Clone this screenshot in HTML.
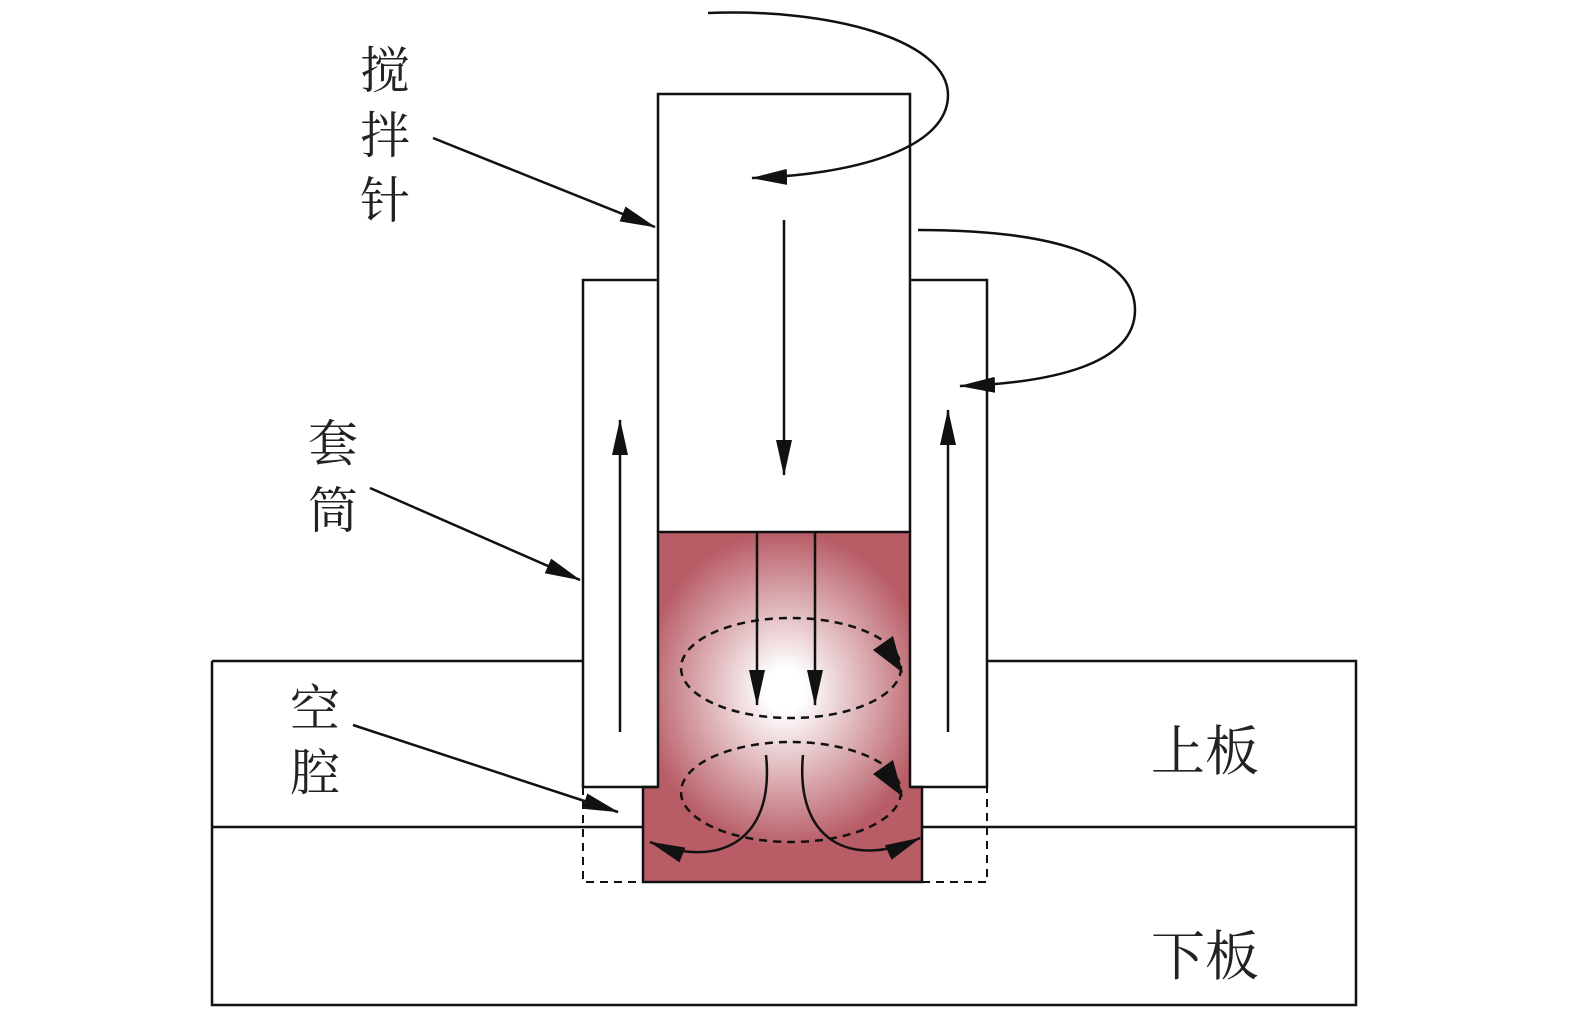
<!DOCTYPE html><html><head><style>html,body{margin:0;padding:0;background:#fff;overflow:hidden}svg{display:block}</style></head><body>
<svg width="1575" height="1025" viewBox="0 0 1575 1025" xmlns="http://www.w3.org/2000/svg">
<defs>
<radialGradient id="g" cx="785" cy="690" r="160" gradientUnits="userSpaceOnUse" gradientTransform="translate(785 690) scale(1 1.1) translate(-785 -690)">
<stop offset="0.12" stop-color="#fff"/><stop offset="0.9" stop-color="#b85c66"/></radialGradient>
<marker id="b" viewBox="0 0 36 16" markerWidth="36" markerHeight="16" refX="35" refY="8" orient="auto" markerUnits="userSpaceOnUse"><path d="M0,0L36,8L0,16z" fill="#111"/></marker>
</defs>
<g stroke="#111" stroke-width="2.5" fill="none">
<path d="M212,661H583M987,661H1356V1005H212V661M212,827H643M922,827H1356"/>
<path d="M658,532H910V787H922V882H643V787H658Z" fill="url(#g)"/>
<path d="M658,532V94H910V532"/>
<path d="M658,280H583V787H658M910,280H987V787H910"/>
<path d="M583,787V882H643M922,882H987V787" stroke-dasharray="8,6" stroke-width="2"/>
<path d="M784,220V475" marker-end="url(#b)"/>
<path d="M620,732V420" marker-end="url(#b)"/>
<path d="M948,732V410" marker-end="url(#b)"/>
<path d="M757,533V705" marker-end="url(#b)"/>
<path d="M815,533V705" marker-end="url(#b)"/>
<ellipse cx="791" cy="668" rx="110" ry="50" stroke-dasharray="8,6"/>
<ellipse cx="791" cy="792" rx="110" ry="50" stroke-dasharray="8,6"/>
<path d="M766,755C775,840 720,870 650,842" marker-end="url(#b)"/>
<path d="M803,755C795,840 850,870 920,838" marker-end="url(#b)"/>
<path d="M708,13C830,8 948,40 948,95C948,150 850,175 752,178" marker-end="url(#b)"/>
<path d="M918,230C1050,230 1135,255 1135,310C1135,365 1050,383 960,386" marker-end="url(#b)"/>
<path d="M433,138L655,227" marker-end="url(#b)"/>
<path d="M370,488L580,580" marker-end="url(#b)"/>
<path d="M353,725L618,812" marker-end="url(#b)"/>
</g>
<g fill="#111">
<path d="M903,673L873,650L893,636Z"/>
<path d="M903,797L873,774L893,760Z"/>
</g>
<g font-family="'Liberation Serif','Noto Serif CJK SC',serif" font-size="50" fill="#222" text-anchor="middle">
<text x="385" y="88">搅</text><text x="385" y="153">拌</text><text x="385" y="218">针</text>
<text x="333" y="461">套</text><text x="333" y="528">筒</text>
<text x="315" y="726">空</text><text x="315" y="790">腔</text>
<text x="1205" y="770" font-size="54">上板</text><text x="1205" y="975" font-size="54">下板</text>
</g>
</svg></body></html>
